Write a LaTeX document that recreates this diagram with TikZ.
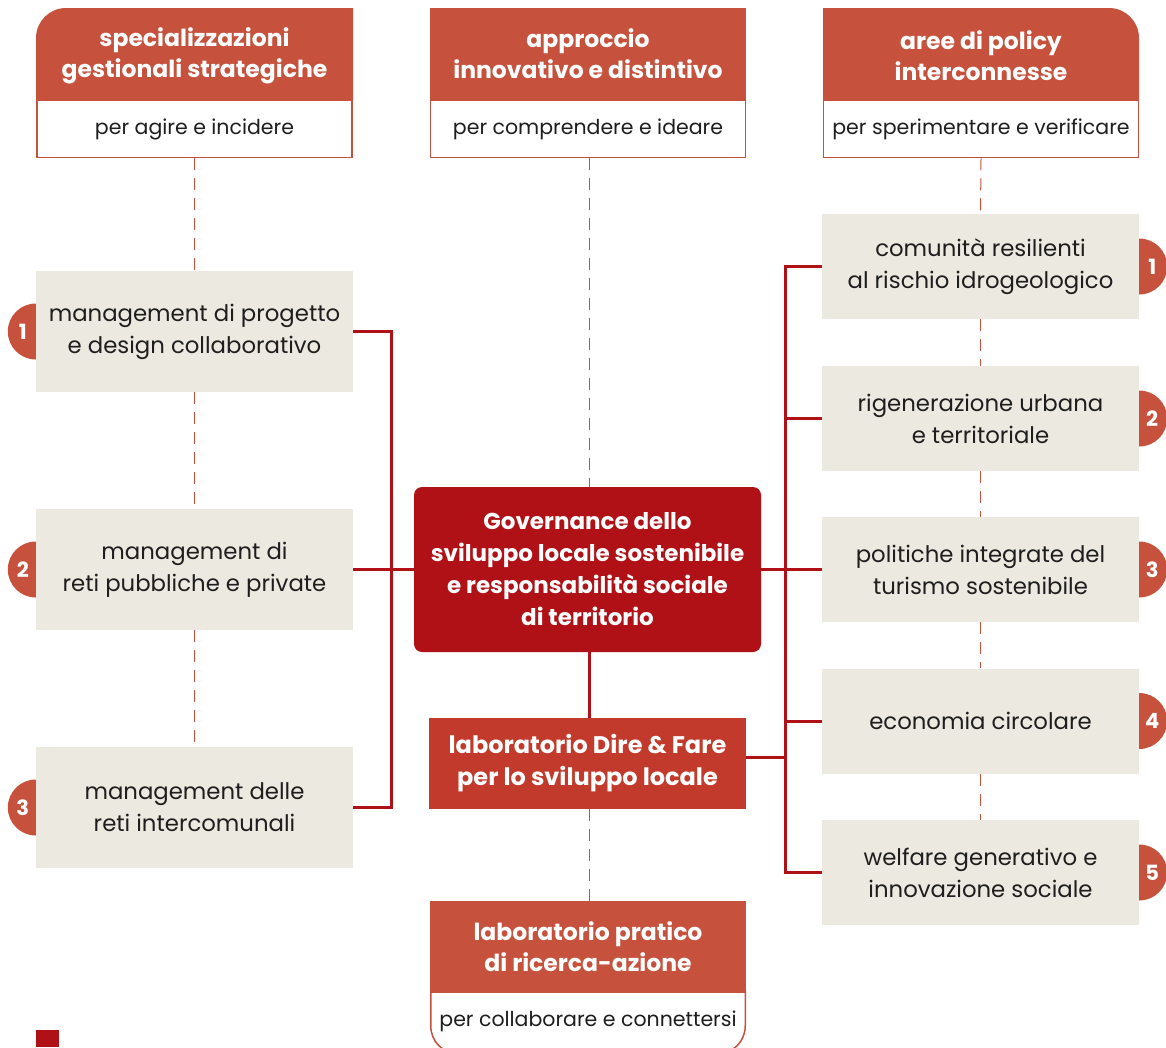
\documentclass[tikz,border=0pt]{standalone}
\usepackage{fontspec}
\setmainfont{Poppins}
\usetikzlibrary{calc}
\definecolor{hdr}{HTML}{C6513C}
\definecolor{gov}{HTML}{B01116}
\definecolor{labc}{HTML}{C13A2B}
\definecolor{beige}{HTML}{ECE9E1}
\definecolor{txt}{HTML}{1E1E1E}
\definecolor{dashc}{HTML}{C8503E}
\begin{document}
\begin{tikzpicture}[x=1pt,y=-1pt,
 title/.style={text=white, font=\fontsize{23.5}{31}\selectfont\bfseries, align=center, inner sep=0pt},
 hbox/.style={fill=hdr, minimum width=316pt, minimum height=92pt, inner sep=0pt, text=white, font=\fontsize{23.5}{31}\selectfont\bfseries, align=center},
 sub/.style={draw=hdr, line width=1.5pt, fill=white, minimum width=315pt, minimum height=57pt, inner sep=0pt, font=\fontsize{20.5}{24}\selectfont, text=txt},
 item/.style={fill=beige, minimum width=317pt, inner sep=0pt, font=\fontsize{22.8}{32}\selectfont, text=txt, align=center},
 conn/.style={draw=gov, line width=3pt},
 dsh/.style={draw=dashc, line width=1pt, dash pattern=on 12pt off 8pt},
 badge/.style={text=white, font=\fontsize{21}{24}\selectfont\bfseries, inner sep=0pt}
]
\useasboundingbox (0,0) rectangle (1166,1047);

% ---- header shapes (left and right with one rounded corner)
\fill[hdr] (36,100) -- (36,38) arc(180:270:30) -- (353,8) -- (353,100) -- cycle;
\fill[hdr] (823,100) -- (823,8) -- (1109,8) arc(270:360:30) -- (1139,100) -- cycle;
\node[title] (T1) at (194.5,55.5) {specializzazioni\\gestionali strategiche};
\node[hbox] (T2) at (588,54) {approccio\\innovativo e distintivo};
\node[title] (T3) at (981,55.5) {aree di policy\\interconnesse};

\node[sub] (S1) at (194.5,129) {per agire e incidere};
\node[sub] (S2) at (588,129) {per comprendere e ideare};
\node[sub] (S3) at (981,129) {per sperimentare e verificare};

% ---- left items
\node[item, minimum height=121pt] (L1) at (194.5,331.5) {management di progetto\\e design collaborativo};
\node[item, minimum height=121pt] (L2) at (194.5,569.5) {management di\\reti pubbliche e private};
\node[item, minimum height=121pt] (L3) at (194.5,807.5) {management delle\\reti intercomunali};

% ---- right items
\node[item, minimum height=105pt] (R1) at (980.5,266.5) {comunità resilienti\\al rischio idrogeologico};
\node[item, minimum height=105pt] (R2) at (980.5,418.5) {rigenerazione urbana\\e territoriale};
\node[item, minimum height=105pt] (R3) at (980.5,569.5) {politiche integrate del\\turismo sostenibile};
\node[item, minimum height=105pt] (R4) at (980.5,721) {economia circolare};
\node[item, minimum height=105pt] (R5) at (980.5,872.5) {welfare generativo e\\innovazione sociale};

% ---- centre
\node[fill=gov, rounded corners=8pt, minimum width=347pt, minimum height=165pt, inner sep=0pt,
      text=white, align=center, font=\fontsize{23}{32}\selectfont\bfseries] (gov) at (587.5,569.5)
      {Governance dello\\sviluppo locale sostenibile\\e responsabilità sociale\\di territorio};
\node[fill=labc, minimum width=317pt, minimum height=91pt, inner sep=0pt,
      text=white, align=center, font=\fontsize{24}{32}\selectfont\bfseries] (lab) at (587.5,763.5)
      {laboratorio Dire \& Fare\\per lo sviluppo locale};

% ---- bottom block
\draw[hdr, line width=1.5pt, fill=white, rounded corners=28pt] (430.75,990) -- (430.75,1054) -- (745.25,1054) -- (745.25,990);
\node[hbox] (B1) at (588,947) {laboratorio pratico\\di ricerca-azione};
\node[font=\fontsize{20.5}{24}\selectfont, text=txt, inner sep=0pt] (B2) at (588,1021) {per collaborare e connettersi};

% ---- dashed guide lines
\draw[dsh] (S1.south) -- (L1.north);
\draw[dsh] (L1.south) -- (L2.north);
\draw[dsh] (L2.south) -- (L3.north);
\draw[dsh] ([xshift=1pt]S2.south) -- ([xshift=1pt]S2.south |- gov.north);
\draw[dsh] ([xshift=1.5pt]lab.south) -- ([xshift=1.5pt]lab.south |- B1.north);
\draw[dsh] (S3.south) -- (R1.north);
\draw[dsh] (R1.south) -- (R2.north);
\draw[dsh] (R2.south) -- (R3.north);
\draw[dsh] (R3.south) -- (R4.north);
\draw[dsh] (R4.south) -- (R5.north);

% ---- connectors
\coordinate (lbar) at (391,0);
\coordinate (rbar) at (785,0);
\draw[conn] (L1.east) -- (L1.east -| lbar) -- (L3.east -| lbar) -- (L3.east);
\draw[conn] (L2.east) -- (gov.west);
\draw[conn] (R1.west) -- (R1.west -| rbar) -- (R5.west -| rbar) -- (R5.west);
\draw[conn] (R2.west) -- (R2.west -| rbar);
\draw[conn] (R4.west) -- (R4.west -| rbar);
\draw[conn] (gov.east) -- (R3.west);
\draw[conn] ([yshift=6.5pt]lab.east) -- ([yshift=6.5pt]lab.east -| rbar);
\draw[conn] ([xshift=1.5pt]gov.south) -- ([xshift=1.5pt]lab.north);

% ---- badges
\foreach \n/\k in {L1/1,L2/2,L3/3}{
  \fill[hdr] (\n.west) ++(0,-28) arc(270:90:28) -- cycle;
  \node[badge] (bl\k) at ([xshift=-13pt]\n.west) {\k};
}
\foreach \n/\k in {R1/1,R2/2,R3/3,R4/4,R5/5}{
  \fill[hdr] (\n.east) ++(0,-28) arc(-90:90:28) -- cycle;
  \node[badge] (br\k) at ([xshift=13pt]\n.east) {\k};
}

% ---- small mark
\fill[gov] (36,1030) rectangle (59,1047);
\end{tikzpicture}
\end{document}
